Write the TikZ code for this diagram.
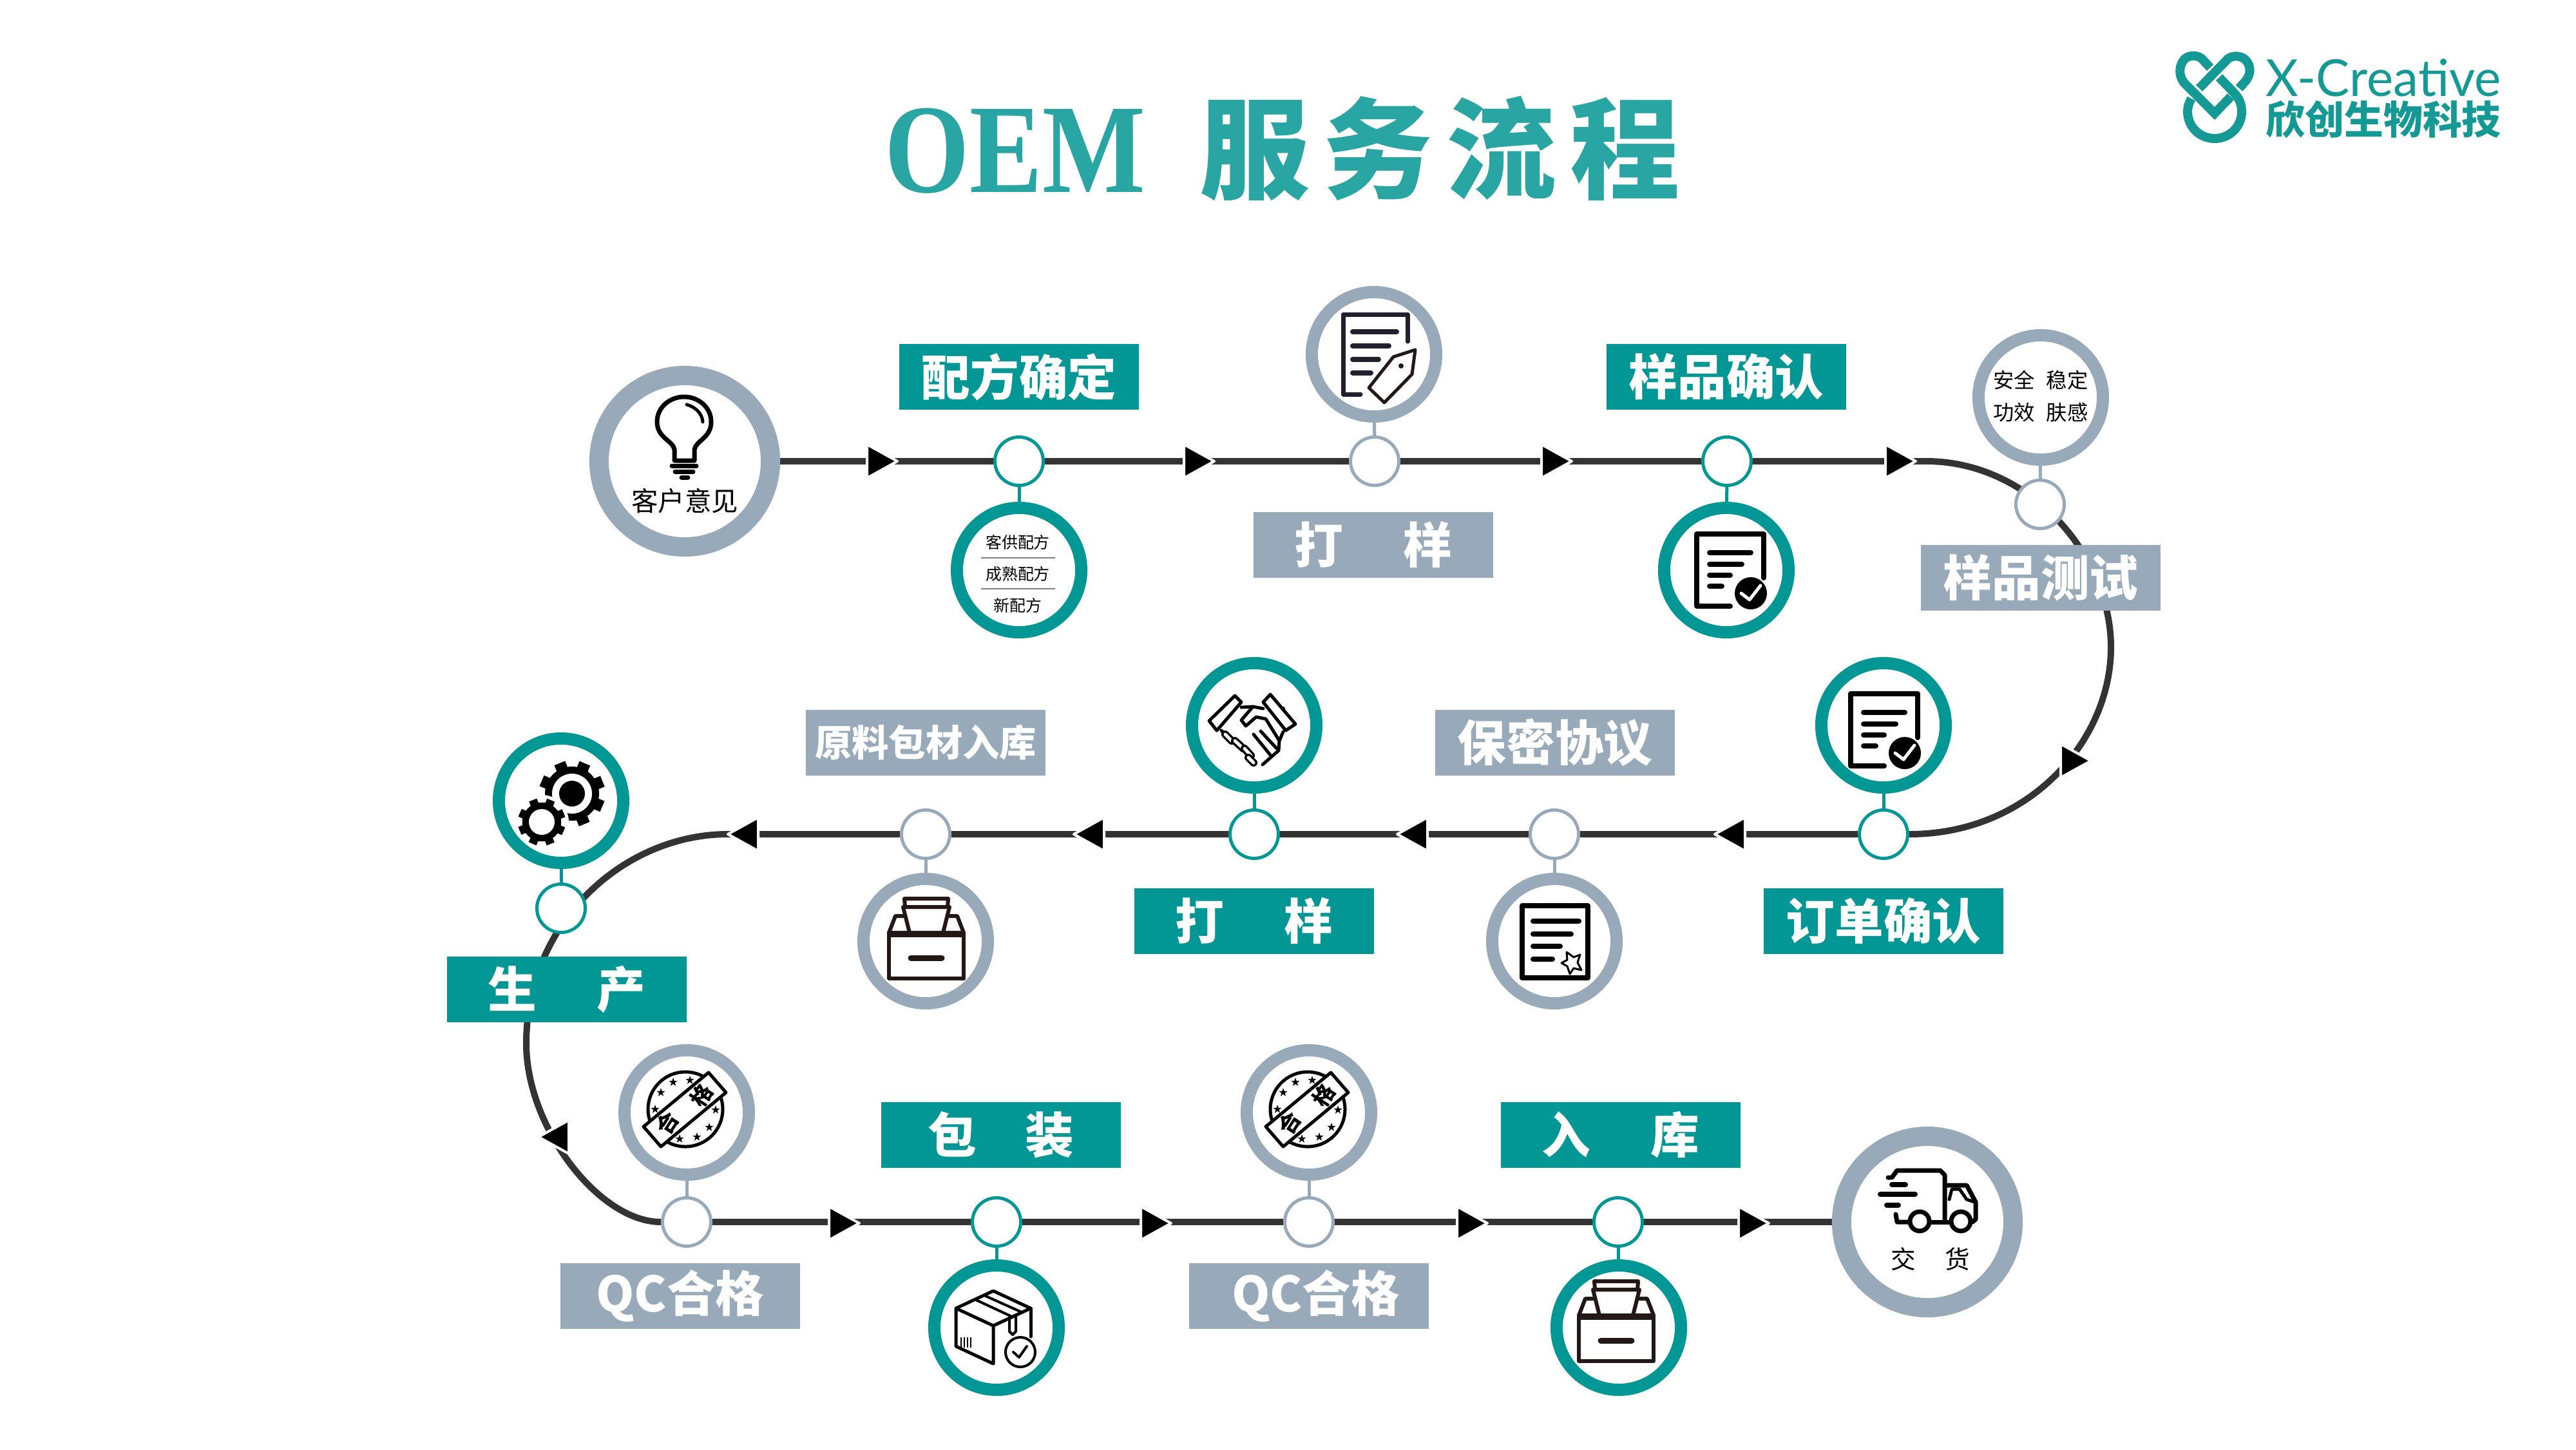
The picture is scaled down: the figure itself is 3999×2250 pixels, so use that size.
\documentclass[tikz,border=0pt]{standalone}
\usepackage{fontspec}
\usepackage{graphicx}
\usetikzlibrary{backgrounds}
\setmainfont{Noto Sans CJK SC}
\newfontfamily\serifoem{Liberation Serif}
\newfontfamily\logolatin{Lato}

\definecolor{tealbox}{HTML}{029694}
\definecolor{graybox}{HTML}{98A9BA}
\definecolor{flowdark}{HTML}{333333}
\definecolor{titleteal}{HTML}{29A6A3}
\definecolor{logoteal}{HTML}{159994}
\definecolor{inkblue}{HTML}{231F2E}
\definecolor{inkbrown}{HTML}{231815}

\newcommand{\boxfont}{\fontsize{21.5}{25}\selectfont\bfseries}

\tikzset{
  stepteal/.style={rectangle, fill=tealbox, text=white, minimum width=3.71cm, minimum height=1.02cm, inner sep=0, font=\boxfont},
  stepgray/.style={stepteal, fill=graybox},
  dotteal/.style={circle, draw=tealbox, fill=white, line width=.05cm, minimum size=.75cm, inner sep=0},
  dotgray/.style={dotteal, draw=graybox},
  ringteal/.style={circle, draw=tealbox, fill=white, line width=.19cm, minimum size=1.93cm, inner sep=0},
  ringgray/.style={ringteal, draw=graybox},
  ringhuge/.style={circle, draw=graybox, fill=white, line width=.30cm, minimum size=2.66cm, inner sep=0},
  flowline/.style={draw=flowdark, line width=.10cm},
  stemteal/.style={draw=tealbox, line width=.05cm},
  stemgray/.style={draw=graybox, line width=.05cm},
  iconline/.style={line width=.07cm, line join=round, line cap=round},
  tinytext/.style={inner sep=0, align=center},
  tipright/.pic={
    \filldraw[draw=white, fill=black, line width=.04cm, line join=round] (3,0) -- (-44,-26) -- (-44,26) -- cycle;
  },
  doccheck/.pic={
    \draw[iconline, line width=.08cm] (52,12) -- (52,-56) -- (-52,-56) -- (-52,56) -- (0,56);
    \draw[iconline, line width=.08cm] (-32,-27) -- (32,-27) (-32,-9) -- (18,-9) (-32,8) -- (0,8) (-32,25) -- (-13,25);
    \fill (32,36) circle (25);
    \draw[white, iconline, line width=.05cm] (17,36) -- (30,46) -- (47,24);
  },
  boxicon/.pic={
    \draw[inkbrown, iconline, line width=.06cm] (-58,-13) rectangle (58,58);
    \draw[inkbrown, line width=.09cm] (-58,-11) -- (58,-11);
    \draw[inkbrown, iconline, line width=.09cm] (-24,26) -- (24,26);
    \draw[inkbrown, iconline, line width=.06cm] (-26,-13) -- (-36,-53) -- (36,-53) -- (26,-13);
    \draw[inkbrown, iconline, line width=.06cm] (-33,-53) -- (-34,-66) -- (34,-66) -- (33,-53);
    \draw[inkbrown, iconline, line width=.06cm] (-58,-13) -- (-48,-39) -- (-36,-39);
    \draw[inkbrown, iconline, line width=.06cm] (58,-13) -- (48,-39) -- (36,-39);
  },
  starmark/.pic={
    \fill (0,-7) -- (1.6,-2.2) -- (6.7,-2.2) -- (2.6,.8) -- (4.1,5.7) -- (0,2.7) -- (-4.1,5.7) -- (-2.6,.8) -- (-6.7,-2.2) -- (-1.6,-2.2) -- cycle;
  },
  stampicon/.pic={
    \draw[line width=.05cm] (-2,-5) circle (58);
    \foreach \sx/\sy in {-40/-31, -21/-47, 5/-50, -49/-5, 45/-4, 35/23, 16/38, -11/41}
      \pic at (\sx,\sy) {starmark};
    \filldraw[fill=white, line width=.05cm, line join=round] (34,-62) -- (61,-31) -- (-40,53) -- (-67,22) -- cycle;
    \node[tinytext, rotate=57, font=\fontsize{9.5}{11}\selectfont\bfseries] (stampa) at (-30,16) {合};
    \node[tinytext, rotate=57, font=\fontsize{9.5}{11}\selectfont\bfseries] (stampb) at (23,-26) {格};
  },
  gearbody/.pic={
    \foreach \a in {22,67,...,337}
      \fill[rotate=\a] (-9,-51) rectangle (9,-38);
    \fill (0,0) circle (42);
  },
}

\begin{document}
\begin{tikzpicture}[x=.01cm, y=-.01cm]
\useasboundingbox (0,0) rectangle (3999,2250);

% title and logo
\node[inner sep=0, anchor=base, text=titleteal, font=\fontsize{56}{60}\selectfont\serifoem\bfseries] (titleoem) at (1576,298) {\scalebox{.86}[1]{OEM}};
\node[inner sep=0, text=titleteal, font=\fontsize{48.5}{52}\selectfont\bfseries] (titlecn) at (2235,231) {服\hspace{6pt}务\hspace{6pt}流\hspace{6pt}程};

\node[inner sep=0, anchor=base west, text=logoteal, font=\logolatin] (logolatin) at (3517,149) {\resizebox{103.8pt}{16.5pt}{X-Creative}};
\node[inner sep=0, anchor=west, text=logoteal, font=\fontsize{17.3}{20}\selectfont\bfseries] (logocn) at (3517,185) {欣创生物科技};
\draw[logoteal, line width=.14cm] (3431,105) -- (3418,91) .. controls (3411,85) and (3398,85) .. (3391,92) .. controls (3384,100) and (3380,115) .. (3391,129) -- (3438,176) -- (3463,150);
\draw[logoteal, line width=.14cm] (3414,137) -- (3455,95) .. controls (3462,85) and (3478,85) .. (3486,93) .. controls (3495,102) and (3495,117) .. (3484,128) -- (3476,137);
\draw[logoteal, line width=.14cm] (3445,120) -- (3468,144) .. controls (3476,152) and (3480,162) .. (3480,173) .. controls (3480,197) and (3461,215) .. (3438,215) .. controls (3415,215) and (3396,197) .. (3396,173) .. controls (3396,166) and (3398,160) .. (3402,153);

% first row
\node[ringhuge] (custom) at (1063,716) {};
\node[dotteal] (recipedot) at (1582,716) {};
\node[ringteal] (recipe) at (1582,885) {};
\node[stepteal] (recipebox) at (1582,585) {配方确定};
\node[dotgray] (proofdot) at (2134,716) {};
\node[ringgray] (proof) at (2133,550) {};
\node[stepgray] (proofbox) at (2132,846) {打\hspace{26.5pt}样};
\node[dotteal] (okdot) at (2681,716) {};
\node[ringteal] (ok) at (2680,885) {};
\node[stepteal] (okbox) at (2680,585) {样品确认};
\node[dotgray] (testdot) at (3167,783) {};
\node[ringgray] (test) at (3168,617) {};

% second row
\node[dotteal] (orderdot) at (2924,1295) {};
\node[ringteal] (order) at (2924,1126) {};
\node[stepteal] (orderbox) at (2924,1430) {订单确认};
\node[dotgray] (ndadot) at (2413,1295) {};
\node[ringgray] (nda) at (2413,1461) {};
\node[stepgray] (ndabox) at (2414,1153) {保密协议};
\node[dotteal] (shakedot) at (1947,1295) {};
\node[ringteal] (shake) at (1947,1126) {};
\node[stepteal] (shakebox) at (1947,1430) {打\hspace{26.5pt}样};
\node[dotgray] (rawdot) at (1437,1295) {};
\node[ringgray] (raw) at (1437,1461) {};
\node[stepgray, font=\fontsize{16.3}{20}\selectfont\bfseries] (rawbox) at (1437,1153) {原料包材入库};
\node[dotteal] (gearsdot) at (871,1410) {};
\node[ringteal] (gears) at (871,1243) {};

% third row
\node[dotgray] (qcadot) at (1066,1897) {};
\node[ringgray] (qca) at (1066,1727) {};
\node[stepgray] (qcabox) at (1056,2012) {QC合格};
\node[dotteal] (packdot) at (1547,1897) {};
\node[ringteal] (pack) at (1547,2061) {};
\node[stepteal] (packbox) at (1554,1762) {包\hspace{21.5pt}装};
\node[dotgray] (qcbdot) at (2032,1897) {};
\node[ringgray] (qcb) at (2032,1727) {};
\node[stepgray] (qcbbox) at (2032,2012) {\hspace{6pt}QC合格};
\node[dotteal] (storedot) at (2512,1897) {};
\node[ringteal] (store) at (2513,2061) {};
\node[stepteal] (storebox) at (2516,1762) {入\hspace{26.5pt}库};
\node[ringhuge] (truck) at (2992,1897) {};

\coordinate (tipa) at (1390,716);
\coordinate (tipb) at (1882,716);
\coordinate (tipc) at (2437,716);
\coordinate (tipd) at (2971,716);

% the flow goes behind everything
\begin{scope}[on background layer]
\fill[white] (0,0) rectangle (3999,2250);
\draw[flowline] (custom) -- (recipedot) -- (proofdot) -- (okdot) -- (tipd) -- (2990,716) .. controls (3150,716) and (3277,860) .. (3277,1005) .. controls (3277,1150) and (3150,1295) .. (orderdot);
\draw[flowline] (orderdot) -- (ndadot) -- (shakedot) -- (rawdot) -- (1130,1295) .. controls (970,1295) and (817,1430) .. (817,1620) .. controls (817,1750) and (930,1897) .. (qcadot);
\draw[flowline] (qcadot) -- (packdot) -- (qcbdot) -- (storedot) -- (truck);
\end{scope}

\node[stepgray] (testbox) at (3168,897) {样品测试};
\node[stepteal] (gearsbox) at (880,1536) {生\hspace{26.5pt}产};

\draw[stemteal] (recipedot) -- (recipe);
\draw[stemgray] (proofdot) -- (proof);
\draw[stemteal] (okdot) -- (ok);
\draw[stemgray] (testdot) -- (test);
\draw[stemteal] (orderdot) -- (order);
\draw[stemgray] (ndadot) -- (nda);
\draw[stemteal] (shakedot) -- (shake);
\draw[stemgray] (rawdot) -- (raw);
\draw[stemteal] (gearsdot) -- (gears);
\draw[stemgray] (qcadot) -- (qca);
\draw[stemteal] (packdot) -- (pack);
\draw[stemgray] (qcbdot) -- (qcb);
\draw[stemteal] (storedot) -- (store);

% arrow heads
\pic at (tipa) {tipright};
\pic at (tipb) {tipright};
\pic at (tipc) {tipright};
\pic at (tipd) {tipright};
\pic at (3243,1181) {tipright};
\pic[rotate=180] at (2665,1295) {tipright};
\pic[rotate=180] at (2172,1295) {tipright};
\pic[rotate=180] at (1670,1295) {tipright};
\pic[rotate=180] at (1133,1295) {tipright};
\pic[rotate=180] at (839,1765) {tipright};
\pic at (1331,1899) {tipright};
\pic at (1815,1899) {tipright};
\pic at (2306,1899) {tipright};
\pic at (2743,1899) {tipright};

% texts in the rings
\node[tinytext, font=\fontsize{11.8}{14}\selectfont] (customtext) at (1063,778) {客户意见};
\node[tinytext, font=\fontsize{7.1}{13.9}\selectfont] (recipetext) at (1580,891) {客供配方\\成熟配方\\新配方};
\draw[gray, line width=.02cm] (1523,866) -- (1638,866) (1523,914) -- (1638,914);
\node[tinytext, font=\fontsize{9.2}{14.3}\selectfont] (testtext) at (3168,615) {安全\hspace{5pt}稳定\\功效\hspace{5pt}肤感};
\node[tinytext, font=\fontsize{11}{14}\selectfont] (trucktext) at (2997,1955) {交\hspace{13pt}货};

% bulb
\draw[iconline, line width=.07cm] (1047,715) -- (1047,698) .. controls (1045,684) and (1020,680) .. (1020,655) .. controls (1020,632) and (1040,616) .. (1062,616) .. controls (1084,616) and (1104,632) .. (1104,655) .. controls (1104,680) and (1080,684) .. (1078,698) -- (1078,715) -- cycle;
\draw[iconline, line width=.05cm] (1066,628) .. controls (1080,632) and (1090,642) .. (1091,655);
\draw[iconline, line width=.07cm] (1043,723) -- (1081,723) (1048,732) -- (1076,732) (1058,741) -- (1068,741);

% document with a tag
\draw[inkblue, iconline] (2185,530) -- (2185,488) -- (2085,488) -- (2085,612) -- (2112,612);
\draw[inkblue, iconline, line width=.08cm] (2100,515) -- (2168,515) (2100,537) -- (2156,537) (2100,558) -- (2140,558) (2100,579) -- (2128,579);
\draw[inkbrown, line width=.05cm, line join=round] (2197,543) -- (2192,581) -- (2149,625) -- (2125,602) -- (2163,554) -- cycle;
\fill[inkbrown] (2175,568) circle (4);

\pic at (2686,885) {doccheck};
\pic at (2925,1133) {doccheck};

% document with a star
\draw[iconline, line width=.08cm] (2363,1406) rectangle (2465,1518);
\draw[iconline, line width=.08cm] (2380,1430) -- (2451,1430) (2380,1450) -- (2439,1450) (2380,1469) -- (2422,1469) (2380,1489) -- (2410,1489);
\filldraw[fill=white, line width=.03cm, line join=round] (2432,1478) -- (2443,1486) -- (2453,1482) -- (2449,1494) -- (2455,1506) -- (2443,1503) -- (2437,1512) -- (2433,1500) -- (2424,1495) -- (2433,1490) -- cycle;

\pic at (1438,1461) {boxicon};
\pic at (2509,2055) {boxicon};

% handshake
\draw[iconline, line width=.05cm] (1917,1080) -- (1927,1090) -- (1889,1134) -- (1877,1119) -- cycle;
\draw[iconline, line width=.05cm] (1972,1078) -- (2011,1124) -- (1996,1134) -- (1961,1090) -- cycle;
\draw[iconline, line width=.05cm] (1927,1098) -- (1945,1097) -- (1961,1100);
\draw[iconline, line width=.05cm] (1945,1097) -- (1927,1118) -- (1934,1127) -- (1950,1113) -- (1965,1116) -- (1986,1150) -- (1985,1165) -- (1960,1187);
\draw[iconline, line width=.05cm] (1992,1136) -- (1986,1150);
\draw[iconline, line width=.05cm] (1896,1134) -- (1903,1141);
\foreach \fa/\fb/\fc/\fd in {1902/1140/1912/1150, 1917/1150/1930/1162, 1932/1162/1942/1173, 1938/1176/1946/1184}{
  \draw[line width=.12cm, line cap=round] (\fa,\fb) -- (\fc,\fd);
  \draw[white, line width=.05cm, line cap=round] (\fa,\fb) -- (\fc,\fd);
}
\draw[iconline, line width=.05cm] (1946,1140) -- (1972,1172) (1957,1135) -- (1982,1162);
\fill (1992,1100) circle (3);

% gears
\pic at (888,1232) {gearbody};
\fill[white] (888,1232) circle (31);
\fill (888,1232) circle (20);
\fill[white] (841,1276) circle (42);
\pic[scale=.72] at (841,1276) {gearbody};
\fill[white] (841,1276) circle (20);

\pic at (1066,1727) {stampicon};
\pic at (2032,1727) {stampicon};

% parcel
\draw[line width=.05cm, line join=round] (1542,2004) -- (1600,2031) -- (1542,2058) -- (1484,2031) -- cycle;
\draw[line width=.05cm, line join=round] (1484,2031) -- (1484,2090) -- (1542,2117) -- (1542,2058);
\draw[line width=.05cm, line cap=round] (1600,2031) -- (1600,2075);
\draw[line width=.04cm] (1513,2017) -- (1571,2044) (1528,2011) -- (1586,2037);
\draw[line width=.04cm, line join=round] (1567,2046) -- (1567,2067) -- (1572,2072) -- (1577,2067) -- (1577,2040);
\foreach \bx in {1492,1497,1502,1507}
  \draw[line width=.02cm] (\bx,2076) -- (\bx,2092);
\filldraw[fill=white, line width=.04cm] (1584,2099) circle (23);
\draw[line width=.04cm, line cap=round, line join=round] (1573,2099) -- (1582,2107) -- (1594,2090);

% truck
\draw[iconline] (2943,1885) -- (2945,1897) -- (2962,1897);
\draw[iconline] (2931,1828) -- (2934,1828) (2937,1828) -- (2945,1817) -- (3012,1817) -- (3019,1824) -- (3019,1896);
\draw[iconline] (2998,1897) -- (3026,1897);
\draw[iconline] (3023,1840) -- (3053,1840) -- (3067,1866) -- (3067,1893) -- (3062,1897);
\draw[iconline, line width=.05cm] (3026,1862) -- (3030,1846) -- (3042,1846) -- (3053,1862) -- (3065,1866);
\draw[iconline, line width=.08cm] (2937,1839) -- (2958,1839) (2919,1854) -- (2973,1854) (2929,1871) -- (2947,1871);
\draw[line width=.07cm] (2980,1896) circle (15) (3044,1896) circle (15);
\end{tikzpicture}
\end{document}
